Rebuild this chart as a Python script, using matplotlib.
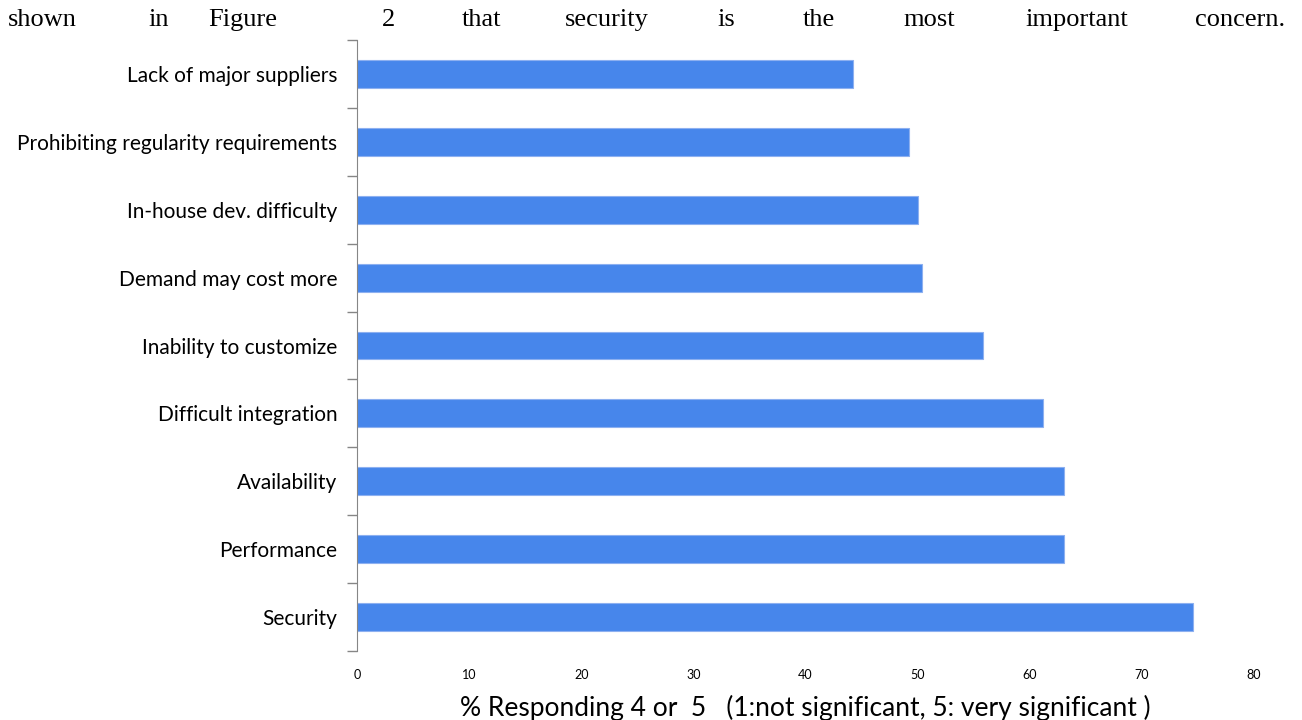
import numpy as np
import matplotlib.pyplot as plt
from matplotlib.ticker import FixedLocator

plt.rcParams['font.family'] = ['Lato', 'DejaVu Sans']

categories = ['Security', 'Performance', 'Availability', 'Difficult integration',
              'Inability to customize', 'Demand may cost more',
              'In-house dev. difficulty', 'Prohibiting regularity requirements',
              'Lack of major suppliers']
values = [74.6, 63.1, 63.1, 61.2, 55.8, 50.4, 50.0, 49.2, 44.2]
xticks = [0, 10, 20, 30, 40, 50, 60, 70, 80]

fig = plt.figure(figsize=(13.02, 7.2), dpi=100)
ax = fig.add_axes([0.2742, 0.0958, 0.6889, 0.8486])

pos = np.arange(len(categories))
ax.barh(pos, values, height=0.41, color='#4786eb', edgecolor='#8db0f0', linewidth=0.8)

ax.set_xlim(0, 80)
ax.set_ylim(-0.5, len(categories) - 0.5)
ax.set_xticks(xticks)
ax.set_xticklabels([str(t) for t in xticks], fontsize=9)
ax.set_yticks(pos)
ax.set_yticklabels(categories, fontsize=15)
ax.yaxis.set_minor_locator(FixedLocator(np.arange(-0.5, len(categories), 1.0)))
ax.tick_params(axis='y', which='major', length=0, pad=14)
ax.tick_params(axis='y', which='minor', length=7, color='#868686', width=1)
ax.tick_params(axis='x', length=0, pad=13)

for s in ['top', 'right', 'bottom']:
    ax.spines[s].set_visible(False)
ax.spines['left'].set_color('#868686')

ax.set_xlabel('% Responding 4 or  5   (1:not significant, 5: very significant )',
              fontsize=19, labelpad=10)

# justified sentence above the chart
words = ['shown', 'in', 'Figure', '2', 'that', 'security', 'is', 'the',
         'most', 'important', 'concern.']
word_x = [8, 148, 208, 382, 462, 565, 717, 803, 903, 1025, 1195]
for w, x in zip(words, word_x):
    fig.text(x / 1302, 1 - 20 / 720, w, family='Liberation Serif', fontsize=19,
             va='center', ha='left')

fig.savefig('out.png', dpi=100)
